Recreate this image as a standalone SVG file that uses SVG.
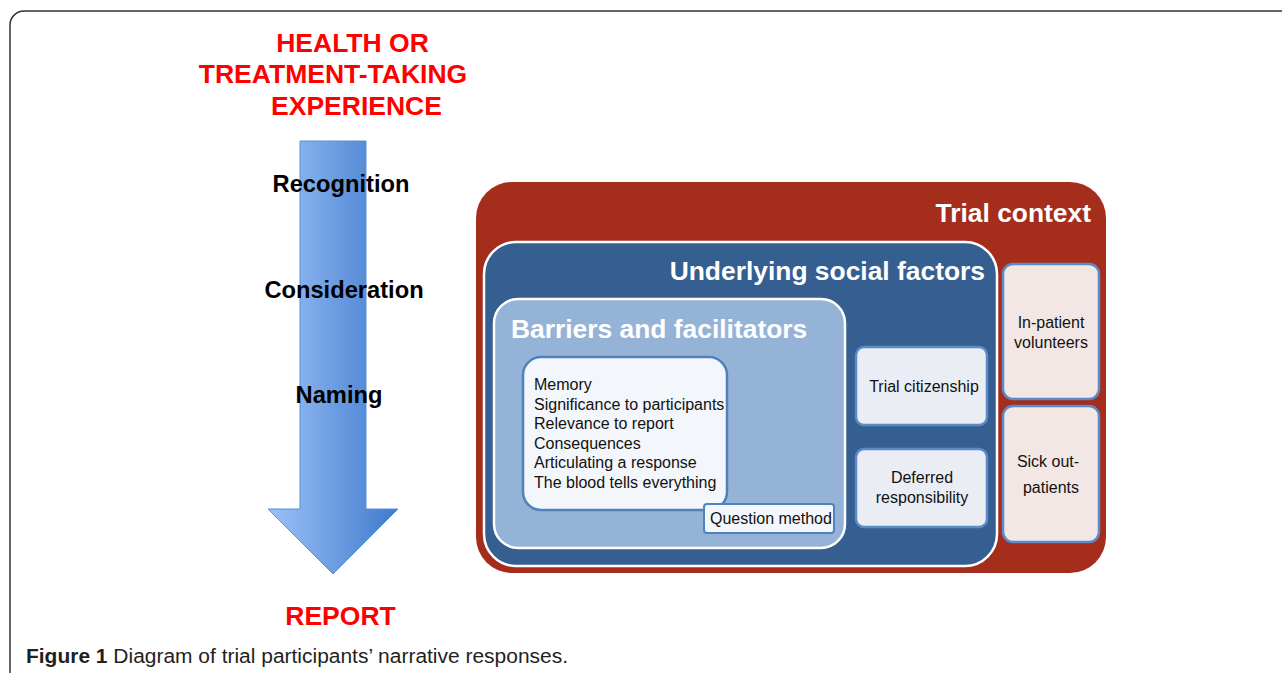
<svg xmlns="http://www.w3.org/2000/svg" width="1282" height="673" viewBox="0 0 1282 673">
<defs>
<linearGradient id="arrowGrad" x1="0" y1="0" x2="1" y2="0">
<stop offset="0" stop-color="#9CC2F8"/>
<stop offset="1" stop-color="#3F7ACD"/>
</linearGradient>
<style>
.red{font-family:"Liberation Sans",Arial,sans-serif;font-weight:bold;fill:#FF0000;font-size:26.5px;text-anchor:middle}
.stage{font-family:"Liberation Sans",Arial,sans-serif;font-weight:bold;fill:#000;font-size:23.7px;text-anchor:middle}
.head{font-family:"Liberation Sans",Arial,sans-serif;font-weight:bold;fill:#fff;font-size:26.4px}
.body{font-family:"Liberation Sans",Arial,sans-serif;fill:#111;font-size:16px}
.mid{text-anchor:middle}
.inner{fill:#EAEEF4;stroke:#5A8BC8;stroke-width:2.5}
.side{fill:#F3E7E5;stroke:#5A8BC8;stroke-width:2.5}
</style>
</defs>
<rect x="10" y="11" width="1300" height="700" rx="14" fill="#fff" stroke="#333" stroke-width="1.5"/>
<g id="title">
<text class="red" x="352.5" y="52">HEALTH OR</text>
<text class="red" x="333" y="83">TREATMENT-TAKING</text>
<text class="red" x="356.5" y="115">EXPERIENCE</text>
</g>
<g id="arrow">
<path d="M300,141 H366 V509 H398 L333,574 L268,509 H300 Z" fill="url(#arrowGrad)" stroke="#5B8FD6" stroke-width="1"/>
<text class="stage" x="341" y="192">Recognition</text>
<text class="stage" x="344" y="298">Consideration</text>
<text class="stage" x="339" y="403">Naming</text>
</g>
<g id="report">
<text class="red" x="340.5" y="625">REPORT</text>
</g>
<g id="trial-context">
<rect x="476" y="182" width="630" height="391" rx="36" fill="#A52D1C"/>
<text class="head" x="1091" y="222" text-anchor="end">Trial context</text>
</g>
<g id="social-factors">
<rect x="484" y="242" width="513" height="324" rx="32" fill="#365F91" stroke="#fff" stroke-width="2.5"/>
<text class="head" x="985" y="280" text-anchor="end">Underlying social factors</text>
</g>
<g id="barriers">
<rect x="494" y="299" width="351" height="249" rx="24" fill="#95B3D7" stroke="#fff" stroke-width="2.5"/>
<text class="head" x="511" y="338">Barriers and facilitators</text>
</g>
<g id="barrier-list">
<rect x="523" y="357" width="204" height="153" rx="18" fill="#F3F6FA" stroke="#4F81BD" stroke-width="2.5"/>
<text class="body" x="534" y="390">Memory</text>
<text class="body" x="534" y="409.5">Significance to participants</text>
<text class="body" x="534" y="429">Relevance to report</text>
<text class="body" x="534" y="448.5">Consequences</text>
<text class="body" x="534" y="468">Articulating a response</text>
<text class="body" x="534" y="487.5">The blood tells everything</text>
</g>
<g id="question-method">
<rect x="704" y="504" width="130" height="29" rx="3" fill="#F3F6FA" stroke="#4F81BD" stroke-width="2"/>
<text class="body" x="710" y="524">Question method</text>
</g>
<g id="trial-citizenship">
<rect x="856" y="347" width="131" height="78" rx="8" class="inner"/>
<text class="body mid" x="924" y="392">Trial citizenship</text>
</g>
<g id="deferred">
<rect x="856" y="449" width="131" height="78" rx="8" class="inner"/>
<text class="body mid" x="922" y="483">Deferred</text>
<text class="body mid" x="922" y="503">responsibility</text>
</g>
<g id="in-patient">
<rect x="1003" y="264" width="96" height="135" rx="10" class="side"/>
<text class="body mid" x="1051" y="328">In-patient</text>
<text class="body mid" x="1051" y="348">volunteers</text>
</g>
<g id="sick-out">
<rect x="1003" y="406" width="96" height="136" rx="10" class="side"/>
<text class="body mid" x="1048" y="467">Sick out-</text>
<text class="body mid" x="1051" y="493">patients</text>
</g>
<g id="connectors"></g>
<g id="caption">
<text x="26" y="663" font-family="'Liberation Sans',Arial,sans-serif" font-size="19.5" fill="#231F20" textLength="542" lengthAdjust="spacingAndGlyphs"><tspan font-weight="bold">Figure 1</tspan> Diagram of trial participants’ narrative responses.</text>
</g>
</svg>
